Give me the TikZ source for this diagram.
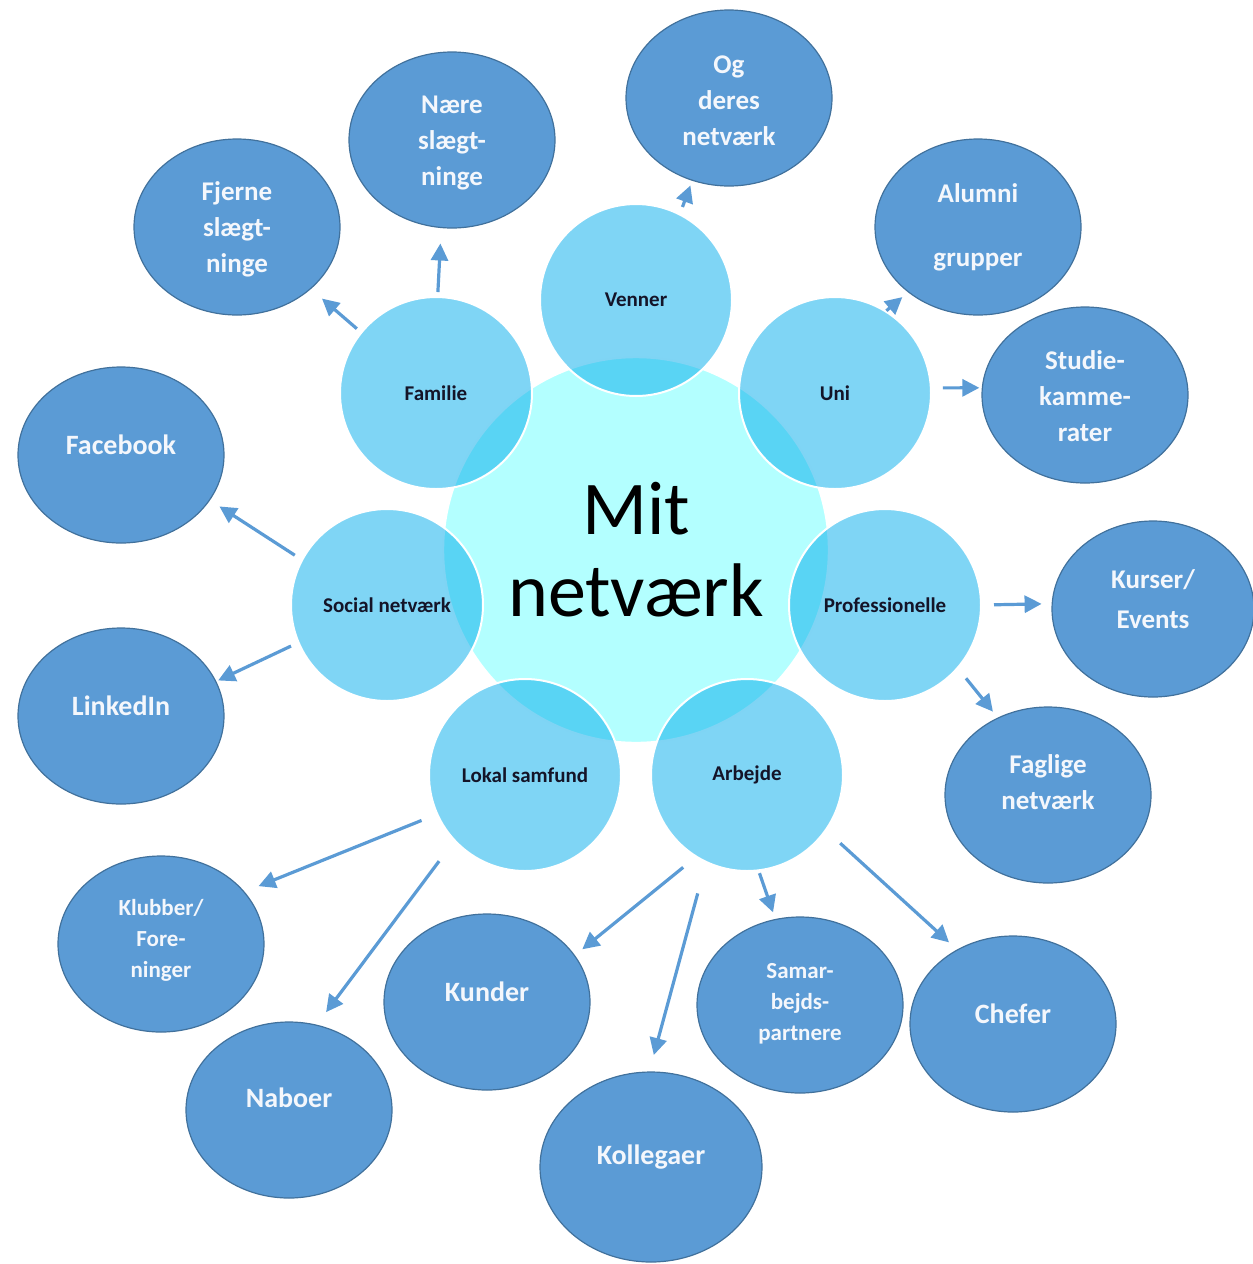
\documentclass[tikz,border=0pt]{standalone}
\usepackage{fontspec}
\setmainfont{Carlito}
\usetikzlibrary{arrows.meta,shapes.geometric}
\definecolor{outfill}{HTML}{5B9BD5}
\definecolor{outedge}{HTML}{41719C}
\definecolor{satfill}{RGB}{0,171,235}
\definecolor{cenfill}{HTML}{B3FFFF}
\definecolor{inktxt}{HTML}{141428}
\definecolor{otext}{HTML}{F4F7FC}
\begin{document}
\begin{tikzpicture}[x=0.5pt,y=-0.5pt,
  hubnode/.style={circle, fill=cenfill, draw=white, line width=1.2pt, minimum size=193pt, inner sep=0pt, align=center, text=black, font=\fontsize{38}{41}\selectfont},
  sat/.style={circle, fill=satfill, fill opacity=0.5, text opacity=1, draw=white, draw opacity=1, line width=1pt, minimum size=96pt, inner sep=0pt, text=inktxt, font=\bfseries\fontsize{10.5}{12}\selectfont},
  outer/.style={ellipse, fill=outfill, draw=outedge, line width=0.6pt, minimum width=103pt, minimum height=88pt, inner sep=0pt},
  otxt/.style={align=center, text=otext, inner sep=0pt, font=\bfseries\fontsize{13.5}{18}\selectfont},
  otxtbig/.style={otxt, font=\bfseries\fontsize{14}{18}\selectfont},
  otxtsmall/.style={otxt, font=\bfseries\fontsize{11.5}{15.5}\selectfont},
  arr/.style={draw=outfill, line width=1.6pt, -{Triangle[length=8.5pt,width=8.5pt]}}
]
\useasboundingbox (0,0) rectangle (1253,1264);

% central hub and satellites
\node[hubnode] (hub) at (636,550) {Mit\\netværk};
\node[sat] (ven) at (636,300) {Venner};
\node[sat] (uni) at (835,393) {Uni};
\node[sat] (pro) at (885,605) {Professionelle};
\node[sat] (arb) at (747,775) {Arbejde};
\node[sat] (lok) at (525,775) {Lokal samfund};
\node[sat] (soc) at (387,605) {Social netværk};
\node[sat] (fam) at (436,393) {Familie};

% outer ellipses
\node[outer] (fje) at (237,227) {};
\node[outer] (nae) at (452,140) {};
\node[outer] (ogd) at (729,98) {};
\node[outer] (alu) at (978,227) {};
\node[outer] (stu) at (1085,395) {};
\node[outer] (fac) at (121,455) {};
\node[outer] (lin) at (121,716) {};
\node[outer, minimum width=101pt] (kur) at (1153,609) {};
\node[outer] (fag) at (1048,795) {};
\node[outer] (klu) at (161,944) {};
\node[outer] (nab) at (289,1110) {};
\node[outer] (kun) at (487,1002) {};
\node[outer, minimum width=111pt, minimum height=95pt] (kol) at (651,1167) {};
\node[outer] (sam) at (800,1005) {};
\node[outer] (che) at (1013,1024) {};

% outer texts
\node[otxt] (fjeT) at (237,229) {Fjerne\\slægt-\\ninge};
\node[otxt] (naeT) at (452,143) {Nære\\slægt-\\ninge};
\node[otxt] (ogdT) at (729,101) {Og\\deres\\netværk};
\node[otxt] (aluT) at (978,227) {Alumni\\[14pt]grupper};
\node[otxt] (stuT) at (1085,396) {Studie-\\kamme-\\rater};
\node[otxtbig] (facT) at (121,445) {Facebook};
\node[otxtbig] (linT) at (121,706) {LinkedIn};
\node[otxt] (kurT) at (1153,599) {Kurser/\\[2pt]Events};
\node[otxt] (fagT) at (1048,782) {Faglige\\netværk};
\node[otxtsmall] (kluT) at (161,940) {Klubber/\\Fore-\\ninger};
\node[otxtbig] (nabT) at (289,1098) {Naboer};
\node[otxtbig] (kunT) at (487,992) {Kunder};
\node[otxtbig] (kolT) at (651,1157) {Kollegaer};
\node[otxtsmall] (samT) at (800,1004) {Samar-\\bejds-\\partnere};
\node[otxtbig] (cheT) at (1013,1014) {Chefer};

% arrows
\draw[arr, shorten <=2.5pt, shorten >=7.3pt] (fam.141) -- (fje.-40);
\draw[arr, shorten <=2pt, shorten >=7.7pt] (fam.89) -- (nae.-97);
\draw[arr, shorten <=3.5pt, shorten >=2.5pt] (ven.63) -- (ogd.-114);
\draw[arr, shorten <=0pt, shorten >=3.7pt] (uni.58) -- (alu.-137);
\draw[arr, shorten <=5.5pt, shorten >=1.2pt] (uni.3) -- (stu.176);
\draw[arr, shorten <=3.9pt, shorten >=5.6pt] (soc.152) -- (fac.-27.5);
\draw[arr, shorten <=3.7pt, shorten >=1pt] (soc.203) -- (lin.20.6);
\draw[arr, shorten <=6pt, shorten >=5pt] (pro.0.5) -- (kur.177.5);
\draw[arr, shorten <=6.2pt, shorten >=3.8pt] (pro.-41.6) -- (fag.123.5);
\draw[arr, shorten <=8pt, shorten >=7.5pt] (lok.204.3) -- (klu.32.7);
\draw[arr, shorten <=12.5pt, shorten >=7.8pt] (lok.223.3) -- (nab.72.8);
\draw[arr, shorten <=8pt, shorten >=4.7pt] (arb.238.2) -- (kun.28.7);
\draw[arr, shorten <=15.8pt, shorten >=8.5pt] (arb.245) -- (kol.91);
\draw[arr, shorten <=1pt, shorten >=3.5pt] (arb.277.8) -- (sam.106.4);
\draw[arr, shorten <=9.3pt, shorten >=5.3pt] (arb.-35.8) -- (che.127.5);
\end{tikzpicture}
\end{document}
